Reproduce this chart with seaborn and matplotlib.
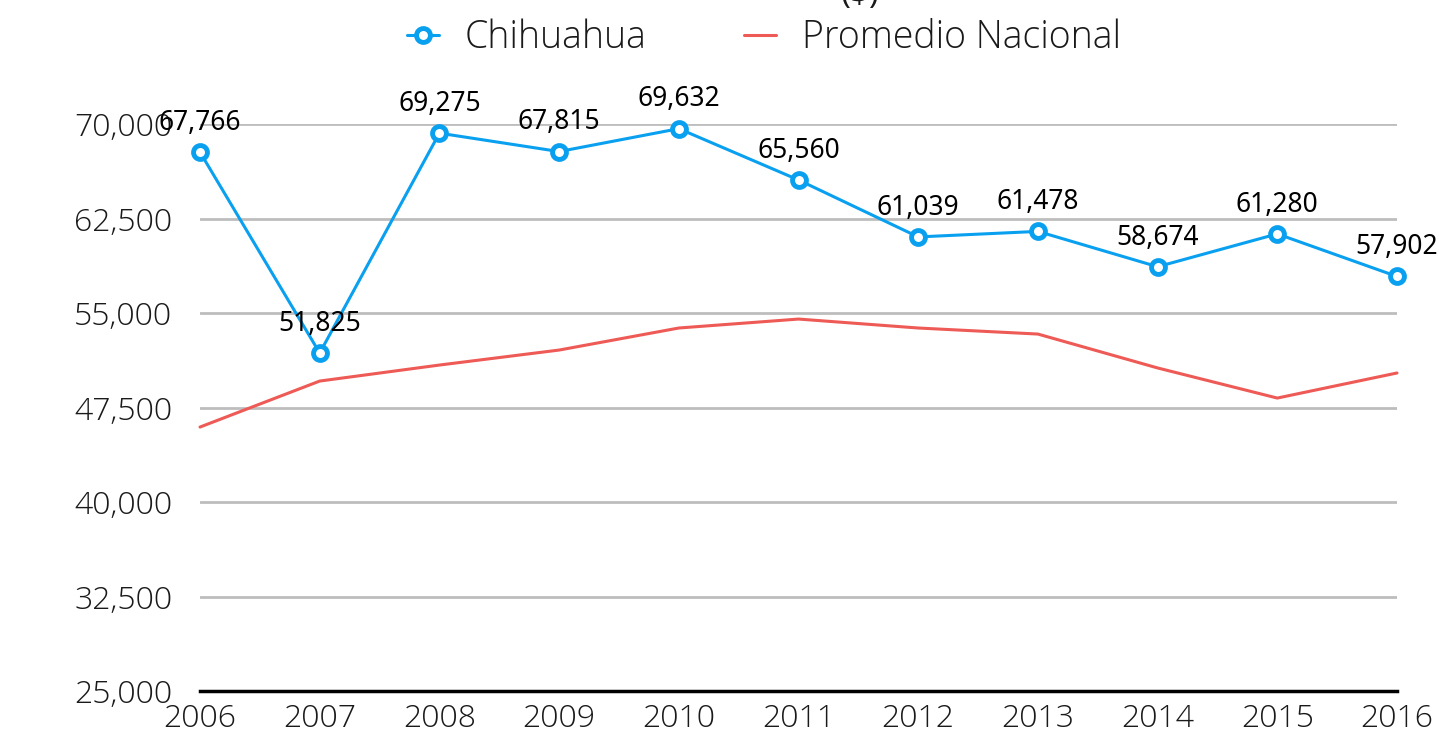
import matplotlib
matplotlib.use("Agg")
import matplotlib.pyplot as plt
import seaborn as sns
import pandas as pd
from matplotlib.lines import Line2D

years = [2006, 2007, 2008, 2009, 2010, 2011, 2012, 2013, 2014, 2015, 2016]
chihuahua = [67766, 51825, 69275, 67815, 69632, 65560, 61039, 61478, 58674, 61280, 57902]
nacional = [45950, 49600, 50870, 52060, 53810, 54520, 53810, 53330, 50640, 48250, 50240]
series_names = ["Chihuahua", "Promedio Nacional"]
yticks = [25000, 32500, 40000, 47500, 55000, 62500, 70000]

BLUE = "#0aa0f0"
RED = "#ee5a55"
TXT = "#1a1a1a"

sns.set_theme(style="white")
plt.rcParams["font.family"] = ["Open Sans", "DejaVu Sans"]
plt.rcParams["text.color"] = TXT

df = pd.DataFrame({
    "year": years * 2,
    "value": chihuahua + nacional,
    "serie": [series_names[0]] * len(years) + [series_names[1]] * len(years),
})

fig = plt.figure(figsize=(14.39, 7.33), dpi=100)
ax = fig.add_axes([0.139, 0.0573, 0.8318, 0.7735])

sns.lineplot(data=df[df.serie == series_names[1]], x="year", y="value", color=RED,
             lw=2.2, ax=ax, legend=False)
sns.lineplot(data=df[df.serie == series_names[0]], x="year", y="value", color=BLUE,
             lw=2.2, ax=ax, legend=False, marker="o", markersize=10,
             markerfacecolor="white", markeredgecolor=BLUE, markeredgewidth=3.5)

for l in ax.lines:
    l.set_clip_on(False)

for x, y in zip(years, chihuahua):
    ax.annotate(f"{y:,}", (x, y), xytext=(0, 21), textcoords="offset points",
                ha="center", va="center", fontsize=19, color="black",
                family=["Noto Sans", "DejaVu Sans"], fontweight="semibold",
                zorder=5, annotation_clip=False)

ax.set_xlim(2006, 2016)
ax.set_ylim(25000, 70000)
ax.set_yticks(yticks)
ax.set_yticklabels([f"{v:,}" for v in yticks])
ax.set_xticks(years)
ax.set_xticklabels([str(y) for y in years])
ax.tick_params(axis="y", length=0, pad=20, labelsize=23, labelcolor=TXT)
ax.tick_params(axis="x", length=0, pad=9, labelsize=23, labelcolor=TXT)
for lab in ax.get_xticklabels() + ax.get_yticklabels():
    lab.set_fontweight(300)
ax.set_xlabel("")
ax.set_ylabel("")
ax.yaxis.grid(True, color="#bdbdbd", lw=2)
ax.set_axisbelow(True)
for s in ["top", "right", "left"]:
    ax.spines[s].set_visible(False)
ax.spines["bottom"].set_color("black")
ax.spines["bottom"].set_linewidth(2.5)

handles = [
    Line2D([], [], color=BLUE, lw=2.2, marker="o", markersize=10,
           markerfacecolor="white", markeredgecolor=BLUE, markeredgewidth=3.5),
    Line2D([], [], color=RED, lw=2.2),
]
leg = fig.legend(handles, series_names, loc="center", bbox_to_anchor=(0.531, 0.948),
                 ncol=2, frameon=False, fontsize=27, handlelength=0.85,
                 columnspacing=2.6, handletextpad=0.7)
for t in leg.get_texts():
    t.set_fontweight(300)
    t.set_color(TXT)

fig.text(0.598, 1.008, "($)", ha="center", va="center", fontsize=24, color=TXT)

fig.savefig("out.png", dpi=100)
